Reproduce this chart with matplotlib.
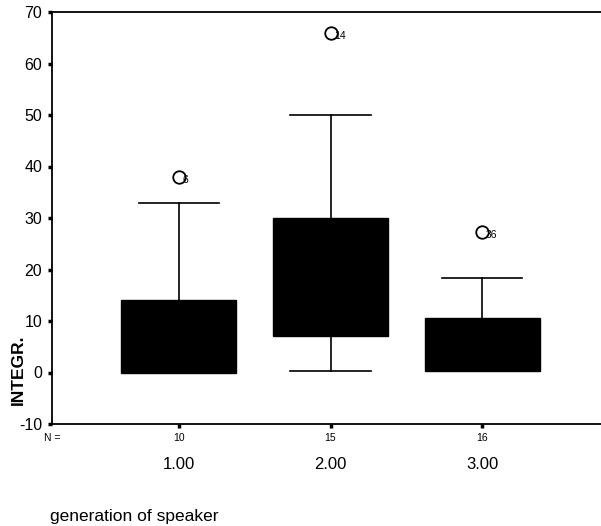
import matplotlib
matplotlib.use("Agg")
import matplotlib.pyplot as plt

plt.rcParams['font.family'] = ['Liberation Sans', 'DejaVu Sans']
plt.rcParams['axes.unicode_minus'] = False

# data
groups = ["1.00", "2.00", "3.00"]
counts = [10, 15, 16]
q1 = [0.0, 7.0, 0.3]
med = [7.0, 18.0, 5.0]
q3 = [14.0, 30.0, 10.5]
wlo = [0.0, 0.2, 0.3]
whi = [33.0, 50.0, 18.3]
outliers = [[38.0], [66.0], [27.3]]
outlier_ids = [["6"], ["14"], ["36"]]

fig = plt.figure(figsize=(6.01, 5.26), dpi=100)
ax = fig.add_axes([52 / 601, (526 - 424) / 526, (609 - 52) / 601, (424 - 12) / 526])

stats = []
for i in range(len(groups)):
    stats.append({"q1": q1[i], "med": med[i], "q3": q3[i],
                  "whislo": wlo[i], "whishi": whi[i], "fliers": []})

pos = [1, 2, 3]
ax.bxp(stats, positions=pos, widths=0.76, patch_artist=True,
       showfliers=False, capwidths=0.53,
       boxprops=dict(facecolor="black", edgecolor="black", linewidth=1),
       medianprops=dict(color="black", linewidth=1),
       whiskerprops=dict(color="black", linewidth=1.2),
       capprops=dict(color="black", linewidth=1.2))

# outliers with case numbers
for i, (vals, ids) in enumerate(zip(outliers, outlier_ids)):
    for v, lab in zip(vals, ids):
        ax.plot(pos[i], v, "o", ms=9, mfc="none", mec="black", mew=1.3)
        ax.text(pos[i] + 0.025, v - 0.6, lab, fontsize=7.5, va="center", ha="left")

ax.set_xlim(0.164, 3.836)
ax.set_ylim(-10, 70)
ax.set_yticks(range(-10, 71, 10))
ax.set_xticks(pos)
ax.set_xticklabels([])
ax.tick_params(axis="both", direction="out", length=3, width=2.5, labelsize=11.5)
ax.tick_params(axis="y", pad=4)
for s in ["top", "left", "bottom"]:
    ax.spines[s].set_linewidth(1.3)
ax.spines["right"].set_visible(False)

# counts and category labels below the axis
for i in range(len(groups)):
    ax.text(pos[i], -12.8, str(counts[i]), fontsize=7.5, ha="center", va="center")
    ax.text(pos[i], -17.8, groups[i], fontsize=12, ha="center", va="center")
ax.text(0.164, -12.8, "N =", fontsize=7.5, ha="center", va="center")

fig.text(18 / 601, 1 - 370 / 526, "INTEGR.", rotation=90, fontsize=12.5,
         ha="center", va="center", fontweight="bold", fontstretch="condensed")
fig.text(50 / 601, 1 - 517 / 526, "generation of speaker", fontsize=12.5,
         ha="left", va="center")

fig.savefig("out.png", dpi=100)
